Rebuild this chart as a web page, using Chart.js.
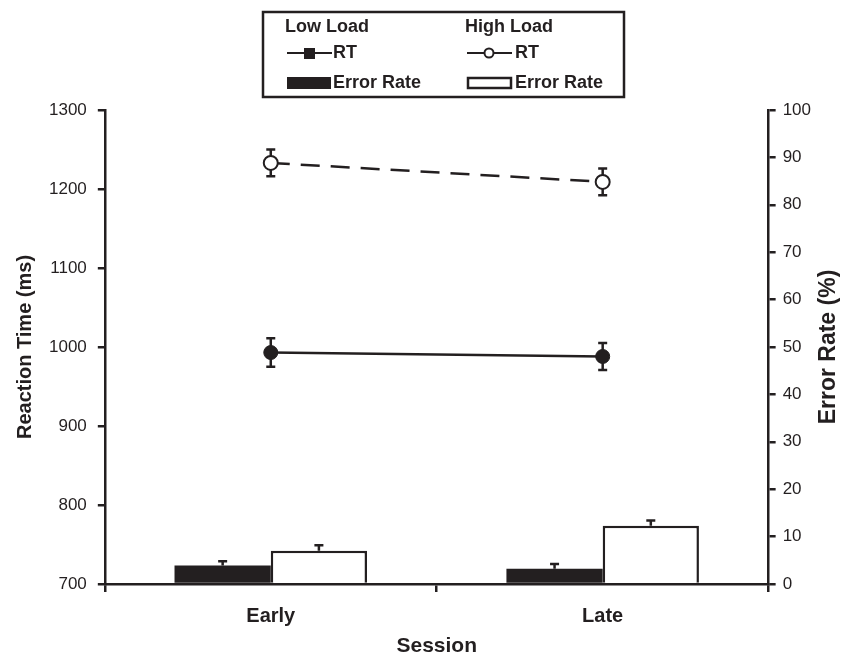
<!DOCTYPE html>
<html>
<head>
<meta charset="utf-8">
<style>
    body { margin: 0; background: #fff; }
    #wrap { width: 842px; height: 655px; position: relative; }
</style>
</head>
<body>
<div id="wrap">
    <canvas id="sessionChart"></canvas>
</div>
<script src="https://cdn.jsdelivr.net/npm/chart.js"></script>
<script>
    var sessions = ['Early', 'Late'];

    // reaction times (ms), left axis
    var lowLoadRT = [993, 988];
    var lowLoadRTErr = [18, 17];
    var highLoadRT = [1233, 1209];
    var highLoadRTErr = [17, 17];

    // error rates (%), right axis
    var lowLoadErr = [3.9, 3.2];
    var lowLoadErrSE = [0.9, 1.0];
    var highLoadErr = [7.0, 12.3];
    var highLoadErrSE = [1.2, 1.1];

    var rtTicks = [700, 800, 900, 1000, 1100, 1200, 1300];
    var errTicks = [0, 10, 20, 30, 40, 50, 60, 70, 80, 90, 100];

    var ink = '#231f20';
    var fontFam = '"Liberation Sans", Arial, sans-serif';

    // error bars: lines get both directions, bars only upward
    var errorBarPlugin = {
        id: 'errorBars',
        beforeDatasetsDraw: function (chart) {
            var ctx = chart.ctx;
            ctx.save();
            ctx.strokeStyle = ink;
            ctx.lineWidth = 2.5;
            chart.data.datasets.forEach(function (ds, di) {
                if (!ds.errs) return;
                var meta = chart.getDatasetMeta(di);
                var scale = chart.scales[ds.yAxisID];
                meta.data.forEach(function (el, i) {
                    var v = ds.data[i], e = ds.errs[i];
                    var top = scale.getPixelForValue(v + e);
                    var bot = ds.type === 'bar' ? scale.getPixelForValue(v) : scale.getPixelForValue(v - e);
                    ctx.beginPath();
                    ctx.moveTo(el.x, top);
                    ctx.lineTo(el.x, bot);
                    ctx.moveTo(el.x - 4.5, top);
                    ctx.lineTo(el.x + 4.5, top);
                    if (ds.type !== 'bar') {
                        ctx.moveTo(el.x - 4.5, bot);
                        ctx.lineTo(el.x + 4.5, bot);
                    }
                    ctx.stroke();
                });
            });
            ctx.restore();
        }
    };

    // boxed legend at the top, plus the x title and the right axis title (reads bottom to top)
    var boxLegendPlugin = {
        id: 'boxLegend',
        afterDraw: function (chart) {
            var ctx = chart.ctx;
            var area = chart.chartArea;
            ctx.save();
            ctx.strokeStyle = ink;
            ctx.lineWidth = 2.5;
            ctx.strokeRect(263, 12, 361, 85);

            ctx.fillStyle = ink;
            ctx.font = 'bold 18px ' + fontFam;
            ctx.textBaseline = 'middle';
            ctx.textAlign = 'left';
            ctx.fillText('Low Load', 285, 27);
            ctx.fillText('High Load', 465, 27);
            ctx.fillText('RT', 333, 53);
            ctx.fillText('RT', 515, 53);
            ctx.fillText('Error Rate', 333, 83);
            ctx.fillText('Error Rate', 515, 83);

            // low load RT symbol
            ctx.lineWidth = 2;
            ctx.beginPath();
            ctx.moveTo(287, 53);
            ctx.lineTo(332, 53);
            ctx.stroke();
            ctx.fillRect(304, 48, 11, 11);

            // high load RT symbol
            ctx.beginPath();
            ctx.moveTo(467, 53);
            ctx.lineTo(512, 53);
            ctx.stroke();
            ctx.beginPath();
            ctx.arc(489, 53, 4.5, 0, Math.PI * 2);
            ctx.fillStyle = '#fff';
            ctx.fill();
            ctx.stroke();

            // error rate swatches
            ctx.fillStyle = ink;
            ctx.fillRect(287, 77, 44, 12);
            ctx.lineWidth = 2.5;
            ctx.strokeRect(468, 78, 43, 10);

            // x axis title
            ctx.textAlign = 'center';
            ctx.font = 'bold 21px ' + fontFam;
            ctx.fillText('Session', (area.left + area.right) / 2, 646);

            // right axis title
            ctx.font = 'bold 23px ' + fontFam;
            ctx.translate(829, (area.top + area.bottom) / 2);
            ctx.rotate(-Math.PI / 2);
            ctx.fillText('Error Rate (%)', 0, 0);
            ctx.restore();
        }
    };

    var ctx = document.getElementById('sessionChart').getContext('2d');
    var chart = new Chart(ctx, {
        data: {
            labels: sessions,
            datasets: [
                {
                    type: 'bar',
                    label: 'Low Load Error Rate',
                    data: lowLoadErr,
                    errs: lowLoadErrSE,
                    yAxisID: 'y1',
                    backgroundColor: ink,
                    borderColor: ink,
                    borderWidth: 0,
                    categoryPercentage: 0.58,
                    barPercentage: 1.0,
                    order: 2
                },
                {
                    type: 'bar',
                    label: 'High Load Error Rate',
                    data: highLoadErr,
                    errs: highLoadErrSE,
                    yAxisID: 'y1',
                    backgroundColor: '#fff',
                    borderColor: ink,
                    borderWidth: 2.5,
                    borderSkipped: 'bottom',
                    categoryPercentage: 0.58,
                    barPercentage: 1.0,
                    order: 2
                },
                {
                    type: 'line',
                    label: 'Low Load RT',
                    data: lowLoadRT,
                    errs: lowLoadRTErr,
                    yAxisID: 'y',
                    borderColor: ink,
                    borderWidth: 2.5,
                    pointStyle: 'circle',
                    pointRadius: 7,
                    pointBackgroundColor: ink,
                    pointBorderColor: ink,
                    pointBorderWidth: 1,
                    order: 1
                },
                {
                    type: 'line',
                    label: 'High Load RT',
                    data: highLoadRT,
                    errs: highLoadRTErr,
                    yAxisID: 'y',
                    borderColor: ink,
                    borderWidth: 2.5,
                    borderDash: [19, 11],
                    pointStyle: 'circle',
                    pointRadius: 7,
                    pointBackgroundColor: '#fff',
                    pointBorderColor: ink,
                    pointBorderWidth: 2,
                    order: 1
                }
            ]
        },
        options: {
            responsive: true,
            maintainAspectRatio: false,
            animation: false,
            layout: { padding: { top: 110, left: 0, right: 24, bottom: 15 } },
            plugins: {
                legend: { display: false },
                tooltip: { enabled: false }
            },
            scales: {
                x: {
                    offset: true,
                    grid: { offset: true, drawOnChartArea: false, color: ink, lineWidth: 2.5, tickLength: 8 },
                    border: { color: ink, width: 2.5 },
                    ticks: { color: ink, font: { family: fontFam, size: 20, weight: 'bold', lineHeight: 1 }, padding: 14 }
                },
                y: {
                    position: 'left',
                    min: 700,
                    max: 1300,
                    afterBuildTicks: function (axis) {
                        axis.ticks = rtTicks.map(function (v) { return { value: v }; });
                    },
                    grid: { drawOnChartArea: false, color: ink, lineWidth: 2.5, tickLength: 7 },
                    border: { color: ink, width: 2.5 },
                    ticks: {
                        color: ink,
                        font: { family: fontFam, size: 17 },
                        padding: 11,
                        callback: function (v) { return String(v); }
                    },
                    title: { display: true, text: 'Reaction Time (ms)', color: ink, font: { family: fontFam, size: 20, weight: 'bold', lineHeight: 1 }, padding: { top: 15, bottom: 3 } }
                },
                y1: {
                    position: 'right',
                    min: 0,
                    max: 100,
                    afterBuildTicks: function (axis) {
                        axis.ticks = errTicks.map(function (v) { return { value: v }; });
                    },
                    grid: { drawOnChartArea: false, color: ink, lineWidth: 2.5, tickLength: 7 },
                    border: { color: ink, width: 2.5 },
                    ticks: {
                        color: ink,
                        font: { family: fontFam, size: 17 },
                        padding: 7,
                        callback: function (v) { return String(v); }
                    }
                }
            }
        },
        plugins: [errorBarPlugin, boxLegendPlugin]
    });
</script>
</body>
</html>
